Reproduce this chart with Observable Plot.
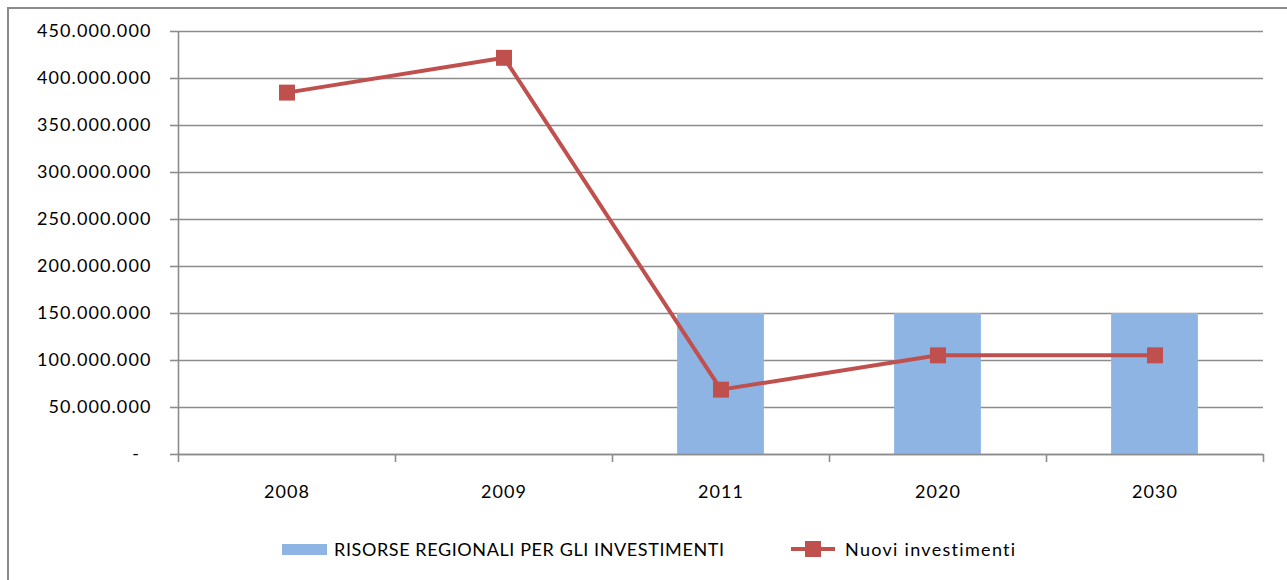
<!DOCTYPE html>
<html>
<head>
<meta charset="utf-8">
<script src="https://cdn.jsdelivr.net/npm/d3@7"></script>
<script src="https://cdn.jsdelivr.net/npm/@observablehq/plot@0.6"></script>
<style>
  html, body { margin: 0; padding: 0; background: #fff; }
  body { width: 1287px; height: 580px; position: relative; overflow: hidden; font-family: Lato, "Open Sans", sans-serif; }
  #frame { position: absolute; left: 7px; top: 7px; width: 1300px; height: 600px; border: 2px solid #8a8a8a; box-sizing: border-box; }
  #chart { position: absolute; left: 0; top: 0; }
  #legend { position: absolute; left: 0; top: 536px; width: 1287px; height: 26px; font-size: 18px; color: #000; }
  .item { position: absolute; top: 0; height: 26px; display: flex; align-items: center; }
  .sw-bar { width: 45px; height: 11px; background: #8EB4E3; margin-right: 7px; }
  .sw-line { position: relative; width: 44px; height: 16px; margin-right: 10px; }
  .sw-line .ln { position: absolute; left: 0; right: 0; top: 6px; height: 4px; background: #C0504D; }
  .sw-line .mk { position: absolute; left: 14px; top: 0; width: 16px; height: 16px; background: #C0504D; }
  #lab1 { letter-spacing: 0.6px; }
  #lab2 { letter-spacing: 1.3px; }
</style>
</head>
<body>
<div id="frame"></div>
<div id="chart"></div>
<div id="legend">
  <div class="item" style="left:282px"><div class="sw-bar"></div><span id="lab1"></span></div>
  <div class="item" style="left:791px"><div class="sw-line"><div class="ln"></div><div class="mk"></div></div><span id="lab2"></span></div>
</div>
<script>
const categories = ["2008", "2009", "2011", "2020", "2030"];
const risorseRegionali = [null, null, 150000000, 150000000, 150000000];
const nuoviInvestimenti = [385000000, 422000000, 69000000, 105500000, 105500000];
const yTicks = [0, 50000000, 100000000, 150000000, 200000000, 250000000, 300000000, 350000000, 400000000, 450000000];
const seriesNames = ["RISORSE REGIONALI PER GLI INVESTIMENTI", "Nuovi investimenti"];

document.getElementById("lab1").textContent = seriesNames[0];
document.getElementById("lab2").textContent = seriesNames[1];

const rows = categories.map((c, i) => ({cat: c, pos: i + 0.5, risorse: risorseRegionali[i], nuovi: nuoviInvestimenti[i]}));
const bars = rows.filter(d => d.risorse != null);
const fmt = d => d === 0 ? "-\u00a0\u00a0" : d3.format(",")(d).replace(/,/g, ".");
const grid = "#8c8c8c";

const chart = Plot.plot({
  width: 1287,
  height: 520,
  marginLeft: 178,
  marginRight: 24,
  marginTop: 31,
  marginBottom: 66,
  style: {fontFamily: "Lato, 'Open Sans', sans-serif", fontSize: "18px", letterSpacing: "1.1px", color: "#000", background: "transparent"},
  x: {domain: [0, categories.length], label: null},
  y: {domain: [0, 450000000], label: null},
  marks: [
    Plot.ruleY(yTicks, {stroke: grid, strokeWidth: 1.6}),
    Plot.rectY(bars, {x1: d => d.pos - 0.2, x2: d => d.pos + 0.2, y: "risorse", fill: "#8EB4E3"}),
    Plot.ruleY([0], {stroke: grid, strokeWidth: 1.6}),
    Plot.ruleX([0], {stroke: grid, strokeWidth: 1.6}),
    Plot.axisX(d3.range(0, categories.length + 1), {tickSize: 8, tickFormat: () => "", stroke: grid, strokeWidth: 1.6, label: null}),
    Plot.axisX(rows.map(d => d.pos), {tickSize: 0, tickPadding: 31, tickFormat: d => categories[Math.floor(d)], fill: "#000", fontSize: 18, label: null}),
    Plot.axisY(yTicks, {tickSize: 8, tickPadding: 19, tickFormat: fmt, stroke: grid, strokeWidth: 1.6, fill: "#000", fontSize: 18, label: null}),
    Plot.line(rows, {x: "pos", y: "nuovi", stroke: "#C0504D", strokeWidth: 4}),
    Plot.dot(rows, {x: "pos", y: "nuovi", symbol: "square", fill: "#C0504D", stroke: "none", r: 9})
  ]
});
document.getElementById("chart").appendChild(chart);
</script>
</body>
</html>
